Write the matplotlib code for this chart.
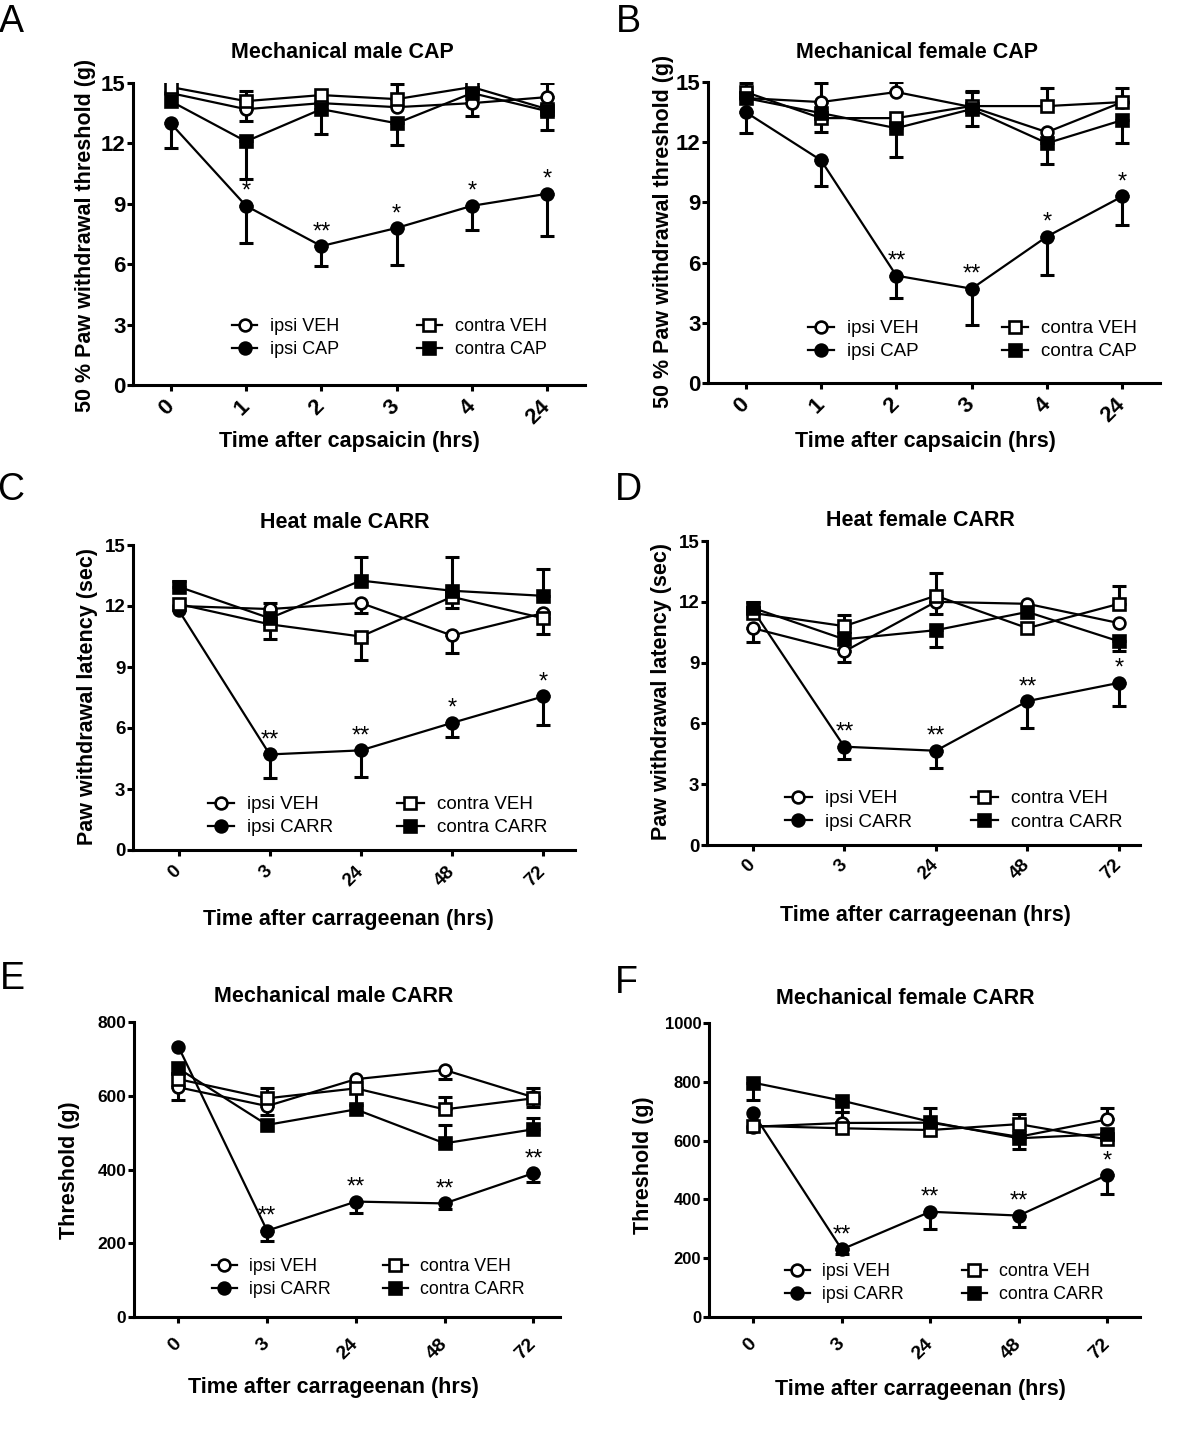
import matplotlib.pyplot as plt

plt.rcParams['font.family'] = ['Liberation Sans', 'DejaVu Sans']

W, H = 1200, 1440

# ---- data ----
names_cap = ['ipsi VEH', 'ipsi CAP', 'contra VEH', 'contra CAP']
names_carr = ['ipsi VEH', 'ipsi CARR', 'contra VEH', 'contra CARR']
hours_cap = ['0', '1', '2', '3', '4', '24']
hours_carr = ['0', '3', '24', '48', '72']

# A: Mechanical male CAP (rows: ipsi VEH, ipsi CAP, contra VEH, contra CAP)
a_mean = [[14.5, 13.7, 14.0, 13.8, 14.0, 14.3],
          [13.0, 8.9, 6.9, 7.8, 8.9, 9.5],
          [14.8, 14.1, 14.4, 14.2, 14.8, 13.7],
          [14.1, 12.1, 13.7, 13.0, 14.5, 13.6]]
a_lo = [[0, 0.6, 0, 0, 0.65, 0],
        [1.25, 1.85, 1.0, 1.85, 1.2, 2.1],
        [0, 0, 0, 0, 0, 0],
        [0, 1.85, 1.25, 1.1, 0, 0.95]]
a_hi = [[0, 0, 0, 0, 0, 0.7],
        [0, 0, 0, 0, 0, 0],
        [0, 0.5, 0, 0.75, 0, 0],
        [0, 0, 0, 0, 0, 0]]
a_stars = ['', '*', '**', '*', '*', '*']

# B: Mechanical female CAP
b_mean = [[14.2, 14.0, 14.5, 13.75, 12.5, 14.0],
          [13.5, 11.1, 5.35, 4.7, 7.3, 9.3],
          [14.5, 13.2, 13.2, 13.8, 13.8, 14.0],
          [14.2, 13.45, 12.7, 13.65, 11.95, 13.1]]
b_lo = [[0, 0, 0, 0, 0, 0],
        [1.05, 1.27, 1.1, 1.8, 1.9, 1.45],
        [0, 0.7, 0, 0, 0, 0],
        [0, 0, 1.45, 0.85, 1.05, 1.15]]
b_hi = [[0, 0.95, 0.5, 0.8, 0, 0.7],
        [0, 0, 0, 0, 0, 0],
        [0.45, 0, 0, 0.7, 0.9, 0],
        [0, 0, 0, 0, 0, 0]]
b_stars = ['', '', '**', '**', '*', '*']

# C: Heat male CARR
c_mean = [[12.0, 11.85, 12.15, 10.55, 11.65],
          [11.8, 4.7, 4.9, 6.25, 7.55],
          [12.1, 11.1, 10.5, 12.45, 11.4],
          [12.95, 11.4, 13.25, 12.75, 12.5]]
c_lo = [[0, 0, 0.5, 0.87, 0],
        [0, 1.15, 1.3, 0.7, 1.4],
        [0, 0.7, 1.15, 0.55, 0.8],
        [0, 0, 0, 0, 0]]
c_hi = [[0, 0.3, 0, 0, 0],
        [0, 0, 0, 0, 0],
        [0, 0, 0, 0, 0],
        [0.3, 0, 1.15, 1.65, 1.3]]
c_stars = ['', '**', '**', '*', '*']

# D: Heat female CARR
d_mean = [[10.7, 9.55, 12.0, 11.9, 10.95],
          [11.6, 4.85, 4.65, 7.1, 8.0],
          [11.45, 10.8, 12.3, 10.7, 11.9],
          [11.7, 10.15, 10.6, 11.5, 10.05]]
d_lo = [[0.66, 0.5, 0.6, 0, 0],
        [0, 0.62, 0.84, 1.34, 1.13],
        [0, 0, 0, 0, 0],
        [0, 0, 0.82, 0, 0.46]]
d_hi = [[0, 0, 0, 0, 0],
        [0, 0, 0, 0, 0],
        [0.3, 0.55, 1.1, 0, 0.87],
        [0.3, 0, 0, 0, 0]]
d_stars = ['', '**', '**', '**', '*']

# E: Mechanical male CARR
e_mean = [[623, 572, 645, 670, 596],
          [733, 234, 313, 308, 390],
          [645, 593, 620, 563, 593],
          [674, 521, 563, 471, 509]]
e_lo = [[35, 24, 0, 25, 26],
        [0, 28, 32, 16, 23],
        [0, 0, 45, 0, 0],
        [0, 0, 0, 0, 0]]
e_hi = [[0, 0, 0, 0, 0],
        [0, 0, 0, 0, 0],
        [0, 27, 0, 34, 27],
        [0, 0, 0, 50, 32]]
e_stars = ['', '**', '**', '**', '**']

# F: Mechanical female CARR
f_mean = [[647, 660, 661, 613, 672],
          [693, 230, 358, 345, 483],
          [650, 642, 636, 656, 604],
          [797, 736, 664, 608, 622]]
f_lo = [[0, 0, 0, 40, 0],
        [0, 16, 60, 38, 66],
        [0, 0, 0, 0, 0],
        [59, 38, 0, 0, 0]]
f_hi = [[0, 38, 50, 0, 38],
        [0, 0, 0, 0, 0],
        [0, 0, 0, 34, 0],
        [0, 0, 0, 0, 0]]
f_stars = ['', '**', '**', '**', '*']

styles = [('o', 'white'), ('o', 'black'), ('s', 'white'), ('s', 'black')]


def fxy(x, y):
    return x / W, 1 - y / H


fig = plt.figure(figsize=(12, 14.4), dpi=100)


def panel(box, xlim, ylim, yticks, xt, names, mean, lo, hi, stars,
          letter, letter_xy, title, title_xy, ylabel, ylabel_xy, xlabel, xlabel_xy,
          tick_fs, xtick_fs, xpad, leg_fs, leg_xy, colspace):
    l, t, r, b = box
    ax = fig.add_axes([l / W, 1 - b / H, (r - l) / W, (b - t) / H])
    xs = list(range(len(xt)))
    handles = []
    for k in range(4):
        m, fc = styles[k]
        ex = [x for x in xs if lo[k][x] or hi[k][x]]
        if ex:
            ax.errorbar(ex, [mean[k][x] for x in ex],
                        yerr=[[lo[k][x] for x in ex], [hi[k][x] for x in ex]],
                        fmt='none', ecolor='black', elinewidth=2.2, capsize=4.7,
                        capthick=2.2, zorder=2)
        h, = ax.plot(xs, mean[k], color='black', lw=1.6, marker=m, ms=8.5,
                     mfc=fc, mec='black', mew=1.9, label=names[k], zorder=3)
        handles.append(h)
    for x, s in enumerate(stars):
        if s:
            ax.annotate(s, (x, mean[1][x]), xytext=(0, 10), textcoords='offset points',
                        ha='center', va='center', fontsize=17)
    ax.set_xlim(*xlim)
    ax.set_ylim(*ylim)
    ax.set_yticks(yticks)
    ax.set_xticks(xs)
    ax.set_xticklabels(xt, rotation=45, ha='right', va='center', rotation_mode='anchor')
    for sp in ['top', 'right']:
        ax.spines[sp].set_visible(False)
    for sp in ['left', 'bottom']:
        ax.spines[sp].set_linewidth(2.2)
    ax.tick_params(axis='both', direction='out', length=4.5, width=2.2)
    ax.tick_params(axis='y', pad=1, labelsize=tick_fs)
    ax.tick_params(axis='x', pad=xpad, labelsize=xtick_fs)
    for lab in ax.get_xticklabels() + ax.get_yticklabels():
        lab.set_fontweight('bold')
    ax.legend(handles=handles, ncol=2, loc='upper left',
              bbox_to_anchor=fxy(*leg_xy), bbox_transform=fig.transFigure,
              frameon=False, fontsize=leg_fs, handlelength=1.4, handletextpad=0.7,
              columnspacing=colspace, labelspacing=0.33, borderpad=0,
              borderaxespad=0)
    fig.text(*fxy(*letter_xy), letter, fontsize=27, ha='center', va='center')
    fig.text(*fxy(*title_xy), title, fontsize=15.5, fontweight='bold', ha='center', va='center')
    fig.text(*fxy(*ylabel_xy), ylabel, fontsize=15.5, fontweight='bold', ha='center',
             va='center', rotation=90)
    fig.text(*fxy(*xlabel_xy), xlabel, fontsize=15.5, fontweight='bold', ha='center', va='center')
    return ax


y15 = [0, 3, 6, 9, 12, 15]

panel((133, 83, 585, 385), (-0.5, 5.5), (0, 15), y15, hours_cap, names_cap,
      a_mean, a_lo, a_hi, a_stars,
      'A', (11, 22), 'Mechanical male CAP', (342, 53),
      '50 % Paw withdrawal threshold (g)', (86, 235),
      'Time after capsaicin (hrs)', (349, 441),
      16, 16, 9, 13, (232, 318), 4.3)

panel((708, 82, 1160, 383), (-0.5, 5.5), (0, 15), y15, hours_cap, names_cap,
      b_mean, b_lo, b_hi, b_stars,
      'B', (628, 22), 'Mechanical female CAP', (917, 52),
      '50 % Paw withdrawal threshold (g)', (663, 231),
      'Time after capsaicin (hrs)', (925, 441),
      16, 16, 9, 13.5, (808, 320), 4.4)

panel((133, 545, 575, 850), (-0.5, 4.35), (0, 15), y15, hours_carr, names_carr,
      c_mean, c_lo, c_hi, c_stars,
      'C', (11, 490), 'Heat male CARR', (345, 523),
      'Paw withdrawal latency (sec)', (88, 697),
      'Time after carrageenan (hrs)', (348, 920),
      13.5, 13.5, 9, 13.5, (208, 796), 3.4)

panel((707, 541, 1140, 845), (-0.5, 4.23), (0, 15), y15, hours_carr, names_carr,
      d_mean, d_lo, d_hi, d_stars,
      'D', (628, 490), 'Heat female CARR', (920, 521),
      'Paw withdrawal latency (sec)', (662, 691),
      'Time after carrageenan (hrs)', (925, 915),
      13.5, 13.5, 8, 13.7, (785, 790), 3.1)

panel((134, 1022, 560, 1317), (-0.5, 4.3), (0, 800), [0, 200, 400, 600, 800],
      hours_carr, names_carr, e_mean, e_lo, e_hi, e_stars,
      'E', (12, 979), 'Mechanical male CARR', (334, 997),
      'Threshold (g)', (70, 1170),
      'Time after carrageenan (hrs)', (333, 1388),
      12.5, 14, 13, 12.8, (212, 1258), 2.9)

panel((709, 1023, 1140, 1317), (-0.5, 4.37), (0, 1000), [0, 200, 400, 600, 800, 1000],
      hours_carr, names_carr, f_mean, f_lo, f_hi, f_stars,
      'F', (626, 983), 'Mechanical female CARR', (905, 998),
      'Threshold (g)', (643, 1165),
      'Time after carrageenan (hrs)', (920, 1390),
      12, 14, 13, 12.8, (785, 1263), 3.25)

fig.savefig('out.png', dpi=100, facecolor='white')
